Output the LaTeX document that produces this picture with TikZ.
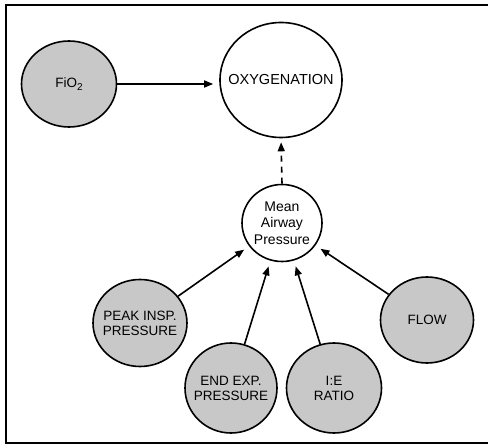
\documentclass[tikz,border=0pt]{standalone}
\usepackage{fontspec}
\setmainfont{Liberation Sans}
\usetikzlibrary{shapes.geometric,arrows.meta}
\definecolor{bubble}{RGB}{200,200,200}
\tikzset{
  bub/.style={ellipse,draw=black,line width=1.6pt,inner sep=0pt},
  grey/.style={bub,fill=bubble},
  white/.style={bub,fill=white},
  txt/.style={align=center,font=\fontsize{13.5}{15}\selectfont},
  arr/.style={line width=1.6pt,-{Triangle[length=9pt,width=7pt]},shorten >=6pt},
}
\begin{document}
\begin{tikzpicture}[x=1pt,y=-1pt]
\useasboundingbox (0,0) rectangle (488,446);
\begin{scope}
\clip (0,0) rectangle (488,446);
\draw[line width=2.2pt] (6,5) rectangle (500,443);
\end{scope}
\node[grey,minimum width=95pt,minimum height=86pt,label={[txt]center:FiO\raisebox{-0.35ex}{\fontsize{10}{10}\selectfont 2}}] (fio) at (69,84) {};
\node[white,minimum width=122pt,minimum height=115pt,label={[txt,font=\fontsize{14.5}{16}\selectfont]center:OXYGENATION}] (oxy) at (281,80) {};
\node[white,minimum width=80pt,minimum height=77pt,label={[txt,font=\fontsize{14}{16.5}\selectfont]center:Mean\\Airway\\Pressure}] (map) at (282,223) {};
\node[grey,minimum width=94pt,minimum height=87pt,label={[txt]center:PEAK INSP.\\PRESSURE}] (pip) at (140,323) {};
\node[grey,minimum width=92pt,minimum height=90pt,label={[txt]center:END EXP.\\PRESSURE}] (peep) at (231,388) {};
\node[grey,minimum width=95pt,minimum height=90pt,label={[txt]center:I:E\\RATIO}] (ie) at (334,388) {};
\node[grey,minimum width=93pt,minimum height=86pt,label={[txt]center:FLOW}] (flow) at (427,320) {};
\draw[arr] (fio.east) -- (oxy.west |- fio.east);
\draw[arr,dashed,dash pattern=on 6pt off 5pt,shorten >=4pt] (map.north) -- (oxy.south);
\draw[arr] (pip) -- (map);
\draw[arr] (peep) -- (map);
\draw[arr] (ie) -- (map);
\draw[arr] (flow) -- (map);
\end{tikzpicture}
\end{document}
